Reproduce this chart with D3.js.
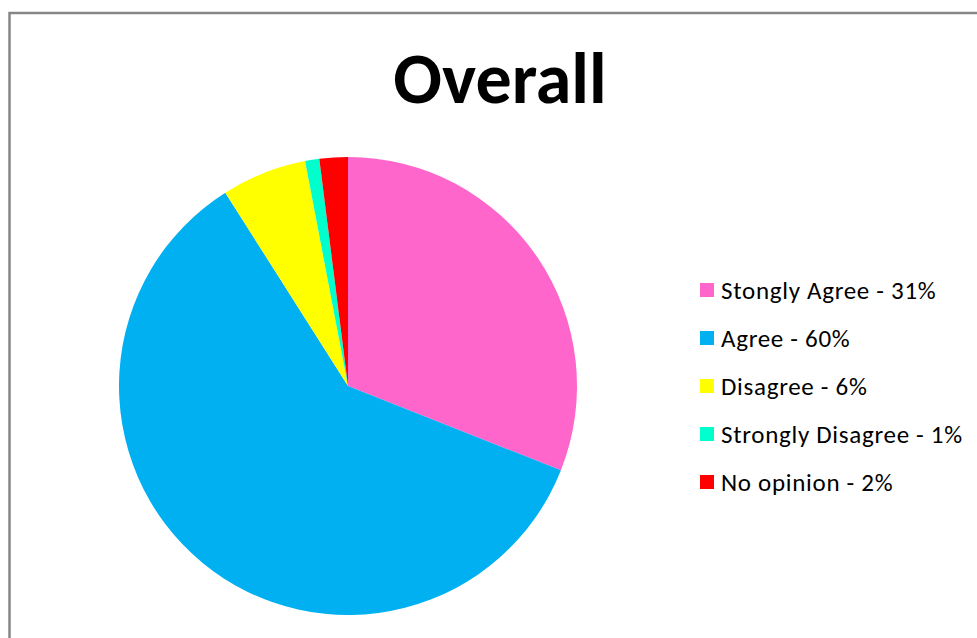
<!DOCTYPE html>
<html>
<head>
<meta charset="utf-8">
<script src="https://cdn.jsdelivr.net/npm/d3@7"></script>
<style>
  body { margin: 0; background: #fff; }
  text { font-family: Carlito, Calibri, "Open Sans", sans-serif; }
</style>
</head>
<body>
<div id="chart"></div>
<script>
var categories = ["Stongly Agree", "Agree", "Disagree", "Strongly Disagree", "No opinion"];
var values = [31, 60, 6, 1, 2];
var colours = ["#ff66cc", "#00b0f0", "#ffff00", "#00ffcc", "#ff0000"];

function pieChart() {
    var w = 977;
    var h = 638;
    var cx = 348;
    var cy = 386;
    var r = 229;

    var data = categories.map(function(c, i) {
        return { name: c, value: values[i] };
    });

    var svg = d3.select("#chart").append("svg").attr("width", w).attr("height", h);

    // chart area border (runs off the right and bottom)
    svg.append("rect")
        .attr("x", 9.5)
        .attr("y", 13)
        .attr("width", w + 20)
        .attr("height", h + 20)
        .attr("fill", "#fff")
        .attr("stroke", "#868686")
        .attr("stroke-width", 2.5);

    svg.append("text")
        .attr("x", 500)
        .attr("y", 103)
        .attr("text-anchor", "middle")
        .attr("font-weight", "bold")
        .attr("font-size", 72)
        .text("Overall");

    var colour = d3.scaleOrdinal().domain(categories).range(colours);

    var pie = d3.pie().sort(null).value(function(d) { return d.value; });
    var arc = d3.arc().innerRadius(0).outerRadius(r);

    svg.append("g")
        .attr("transform", "translate(" + cx + "," + cy + ")")
        .selectAll("path")
        .data(pie(data))
        .join("path")
        .attr("d", arc)
        .attr("fill", function(d) { return colour(d.data.name); });

    var legendY = d3.scalePoint().domain(categories).range([290, 482]);

    var legend = svg.append("g")
        .selectAll("g")
        .data(data)
        .join("g")
        .attr("transform", function(d) { return "translate(700," + legendY(d.name) + ")"; });

    legend.append("rect")
        .attr("x", 0)
        .attr("y", -7)
        .attr("width", 14)
        .attr("height", 14)
        .attr("fill", function(d) { return colour(d.name); });

    legend.append("text")
        .attr("x", 21)
        .attr("y", 8.5)
        .attr("font-size", 25)
        .attr("letter-spacing", 0.7)
        .attr("fill", "#000")
        .text(function(d) { return d.name + " - " + d.value + "%"; });
}

window.onload = pieChart;
</script>
</body>
</html>
